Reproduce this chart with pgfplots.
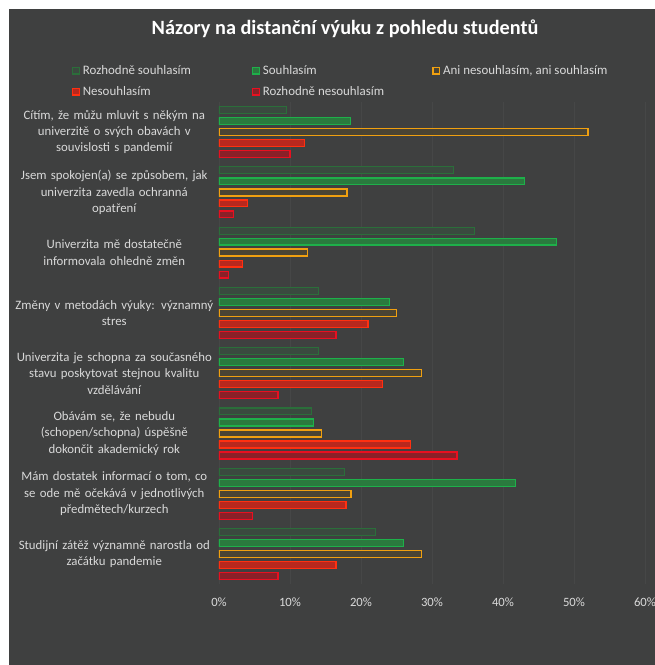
\documentclass[border=0pt]{standalone}
\usepackage{pgfplots}
\pgfplotsset{compat=1.18}
\usepackage{pgfplotstable}
\usepackage{fontspec}
\setmainfont{Carlito}

\definecolor{bg}{HTML}{3F4040}
\definecolor{gridc}{HTML}{464747}
\definecolor{txt}{HTML}{D9D9D9}
\definecolor{cA}{HTML}{2B6E3A}
\definecolor{cAf}{HTML}{3A4A3F}
\definecolor{cB}{HTML}{1EB04A}
\definecolor{cBf}{HTML}{2A7A3E}
\definecolor{cC}{HTML}{F0A010}
\definecolor{cCf}{HTML}{4A4434}
\definecolor{cD}{HTML}{FF3010}
\definecolor{cDf}{HTML}{B8281E}
\definecolor{cE}{HTML}{E81020}
\definecolor{cEf}{HTML}{8A2028}

% pos: 8 = first category (top)
\pgfplotstableread{
pos rs   s    ani  n    rn
8   9.5  18.5 52   12   10
7   33   43   18   4    2
6   36   47.5 12.5 3.3  1.3
5   14   24   25   21   16.5
4   14   26   28.5 23   8.3
3   13   13.3 14.4 27   33.5
2   17.7 41.8 18.6 17.9 4.7
1   22   26   28.5 16.5 8.3
}\data

\begin{document}
\begin{tikzpicture}
\fill[white] (0,0) rectangle (491.25pt,498.75pt);
\fill[bg] (6.75pt,0) rectangle (491.25pt,492pt);
\node[font=\bfseries\fontsize{15.2}{18}\selectfont, text=white] at (258.75pt,477pt) {Názory na distanční výuku z pohledu studentů};

\begin{axis}[
  at={(164.25pt,60.6pt)}, anchor=south west,
  width=319.5pt, height=361.7pt, scale only axis,
  xbar, bar width=5.2pt,
  xmin=0, xmax=60, ymin=0.5, ymax=8.5,
  xtick={0,10,...,60},
  xticklabel={\pgfmathprintnumber{\tick}\%},
  /pgf/number format/assume math mode=true,
  ytick={1,...,8},
  yticklabels={
    {Studijní zátěž významně narostla od\\začátku pandemie},
    {Mám dostatek informací o tom, co\\se ode mě očekává v jednotlivých\\předmětech/kurzech},
    {Obávám se, že nebudu\\(schopen/schopna) úspěšně\\dokončit akademický rok},
    {Univerzita je schopna za současného\\stavu poskytovat stejnou kvalitu\\vzdělávání},
    {Změny v metodách výuky: významný\\stres},
    {Univerzita mě dostatečně\\informovala ohledně změn},
    {Jsem spokojen(a) se způsobem, jak\\univerzita zavedla ochranná\\opatření},
    {Cítím, že můžu mluvit s někým na\\univerzitě o svých obavách v\\souvislosti s pandemií}
  },
  yticklabel style={text=txt, font=\fontsize{9.6}{12.3}\selectfont, align=center, text width=150pt},
  xticklabel style={text=txt, font=\fontsize{9.5}{12}\selectfont, yshift=-6.5pt},
  major tick length=0pt,
  axis line style={draw=none},
  xmajorgrids, grid style={gridc, line width=0.6pt},
  legend columns=3,
  legend style={at={(-0.355,1.088)}, anchor=north west, draw=none, fill=none,
    text=txt, font=\fontsize{9.7}{11.5}\selectfont,
    /tikz/every odd column/.style={column sep=0pt},
    row sep=3.5pt},
  legend cell align=left,
  legend image code/.code={\draw[#1, line width=0.9pt] (0pt,-2.6pt) rectangle (5.2pt,2.6pt);},
]
\addplot[draw=cA, fill=cAf, line width=0.8pt, bar shift=16.5pt] table[x=rs, y=pos] {\data};
\addplot[draw=cB, fill=cBf, line width=1pt, bar shift=8.25pt] table[x=s, y=pos] {\data};
\addplot[draw=cC, fill=cCf, line width=1.1pt, bar shift=0pt] table[x=ani, y=pos] {\data};
\addplot[draw=cD, fill=cDf, line width=1pt, bar shift=-8.25pt] table[x=n, y=pos] {\data};
\addplot[draw=cE, fill=cEf, line width=1pt, bar shift=-16.5pt] table[x=rn, y=pos] {\data};
\addlegendentry{\makebox[125pt][l]{Rozhodně souhlasím}}
\addlegendentry{\makebox[125pt][l]{Souhlasím}}
\addlegendentry{\makebox[125pt][l]{Ani nesouhlasím, ani souhlasím}}
\addlegendentry{\makebox[125pt][l]{Nesouhlasím}}
\addlegendentry{\makebox[125pt][l]{Rozhodně nesouhlasím}}
\end{axis}
\pgfresetboundingbox
\useasboundingbox (0,0) rectangle (491.25pt,498.75pt);
\end{tikzpicture}
\end{document}
